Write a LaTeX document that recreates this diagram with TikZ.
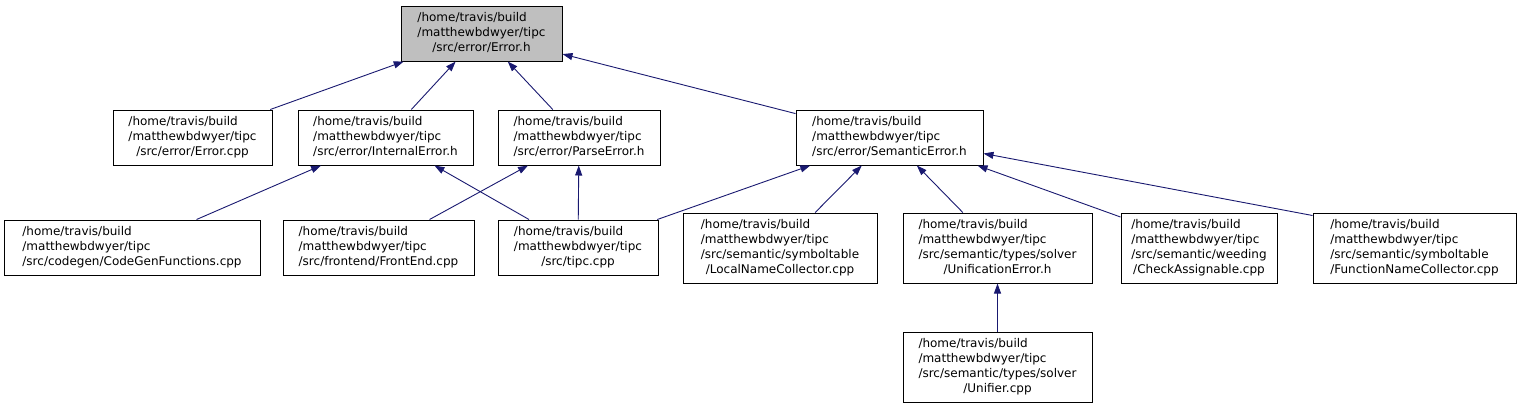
\documentclass[tikz,border=0pt]{standalone}
\usepackage{fontspec}
\setmainfont{DejaVu Sans}
\usetikzlibrary{arrows.meta,calc}
\definecolor{edgeblue}{HTML}{191970}
\definecolor{curfill}{HTML}{BFBFBF}
\newcommand\dlab[2]{\begin{tabular}{@{}l@{}}#1\\\multicolumn{1}{@{}c@{}}{#2}\end{tabular}}
\begin{document}
\begin{tikzpicture}[x=1pt,y=-1pt,
  box/.style={draw=black, line width=1pt, fill=white, inner sep=0pt,
    font=\fontsize{12}{15}\selectfont},
  box3/.style={box, minimum height=55},
  box4/.style={box, minimum height=70},
  edge/.style={draw=edgeblue, line width=0.9pt, -{Triangle[length=10pt,width=7pt]}}]
\useasboundingbox (0,0) rectangle (1521,408);

\node[box3, fill=curfill, minimum width=161] (errh) at (481.5,33.5)
  {\dlab{/home/travis/build\\/matthewbdwyer/tipc}{/src/error/Error.h}};

\node[box3, minimum width=159] (errcpp) at (192.5,137.5)
  {\dlab{/home/travis/build\\/matthewbdwyer/tipc}{/src/error/Error.cpp}};
\node[box3, minimum width=175] (interr) at (385.5,137.5)
  {\dlab{/home/travis/build\\/matthewbdwyer/tipc}{/src/error/InternalError.h}};
\node[box3, minimum width=162] (parse) at (579,137.5)
  {\dlab{/home/travis/build\\/matthewbdwyer/tipc}{/src/error/ParseError.h}};
\node[box3, minimum width=187] (sem) at (889.5,137.5)
  {\dlab{/home/travis/build\\/matthewbdwyer/tipc}{/src/error/SemanticError.h}};

\node[box3, minimum width=256] (codegen) at (132,247.5)
  {\dlab{/home/travis/build\\/matthewbdwyer/tipc}{/src/codegen/CodeGenFunctions.cpp}};
\node[box3, minimum width=191] (frontend) at (378.5,247.5)
  {\dlab{/home/travis/build\\/matthewbdwyer/tipc}{/src/frontend/FrontEnd.cpp}};
\node[box3, minimum width=160] (tipc) at (578,247.5)
  {\dlab{/home/travis/build\\/matthewbdwyer/tipc}{/src/tipc.cpp}};
\node[box4, minimum width=194] (lnc) at (780,248)
  {\dlab{/home/travis/build\\/matthewbdwyer/tipc\\/src/semantic/symboltable}{/LocalNameCollector.cpp}};
\node[box4, minimum width=189] (unierr) at (997.5,248)
  {\dlab{/home/travis/build\\/matthewbdwyer/tipc\\/src/semantic/types/solver}{/UnificationError.h}};
\node[box4, minimum width=156] (check) at (1199,248)
  {\dlab{/home/travis/build\\/matthewbdwyer/tipc\\/src/semantic/weeding}{/CheckAssignable.cpp}};
\node[box4, minimum width=203] (fnc) at (1414.5,248)
  {\dlab{/home/travis/build\\/matthewbdwyer/tipc\\/src/semantic/symboltable}{/FunctionNameCollector.cpp}};

\node[box4, minimum width=189] (unifier) at (997.5,367)
  {\dlab{/home/travis/build\\/matthewbdwyer/tipc\\/src/semantic/types/solver}{/Unifier.cpp}};

\draw[edge] (errcpp) -- (errh);
\draw[edge] (interr) -- (errh);
\draw[edge] (parse) -- (errh);
\draw[edge] (sem) -- (errh);
\draw[edge] (codegen) -- (interr);
\draw[edge] (tipc) -- (interr);
\draw[edge] (frontend) -- (parse);
\draw[edge] (tipc) -- (parse);
\draw[edge] (tipc) -- (sem);
\draw[edge] (lnc) -- (sem);
\draw[edge] (unierr) -- (sem);
\draw[edge] (check.north west |- 0,217) -- ($(sem.south east)+(-6,0)$);
\draw[edge] ($(fnc.north west)+(0,3)$) -- ($(sem.east)+(0,16)$);
\draw[edge] (unifier) -- (unierr);
\end{tikzpicture}
\end{document}
